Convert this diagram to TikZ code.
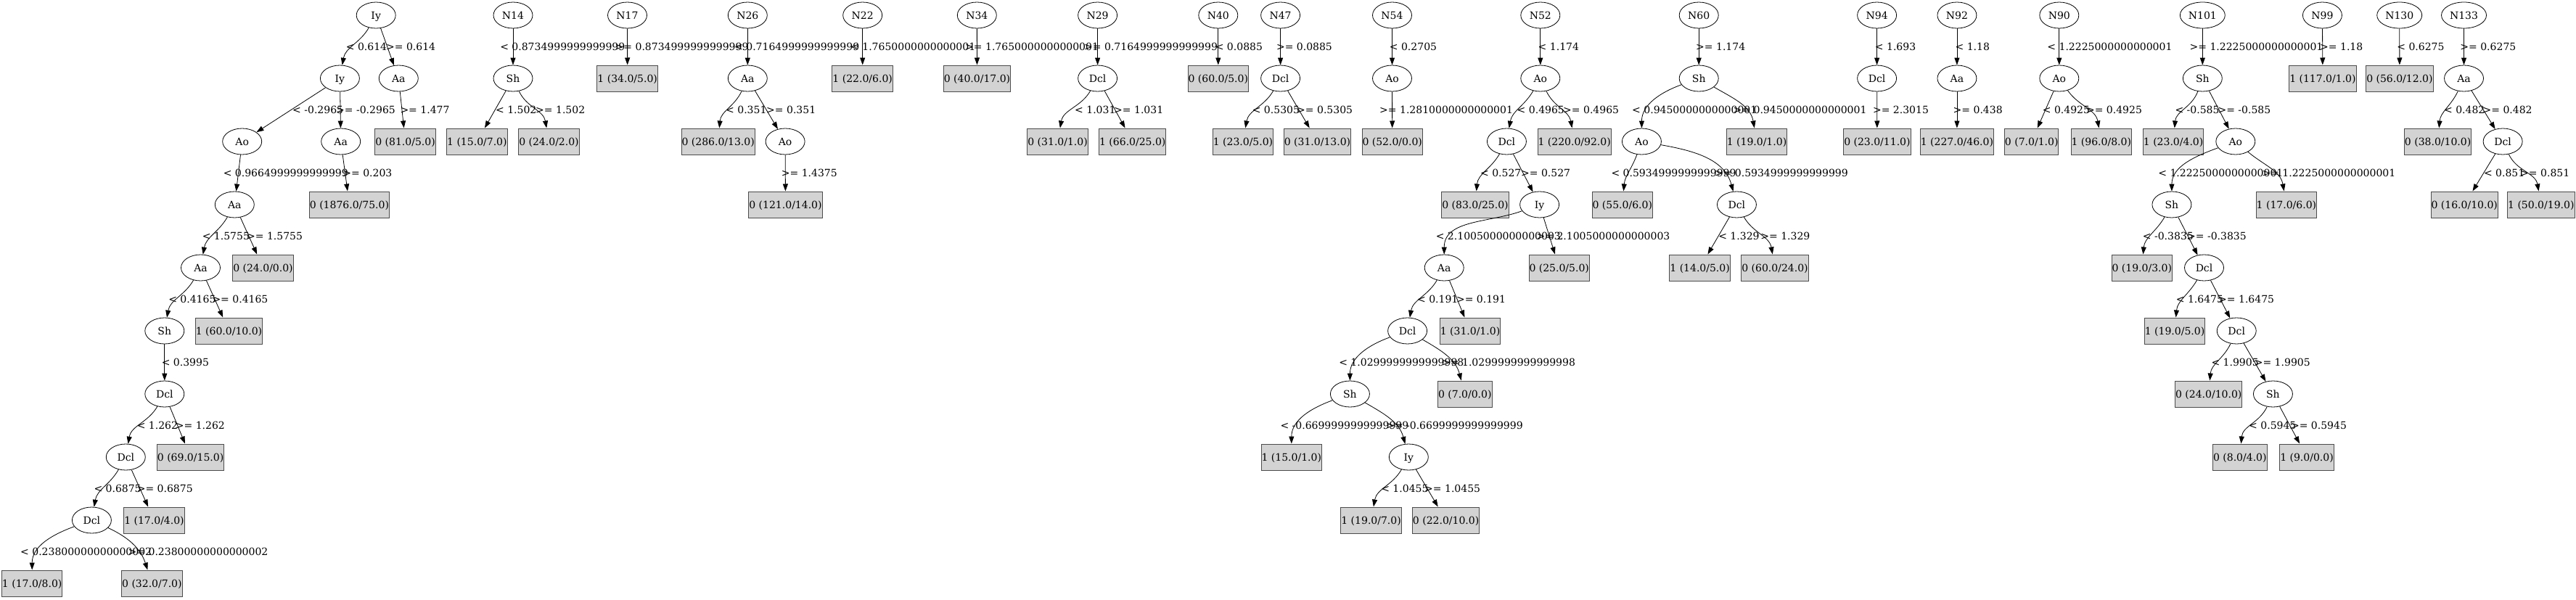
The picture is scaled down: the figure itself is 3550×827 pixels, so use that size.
\documentclass[tikz,border=0pt]{standalone}
\usepackage{fontspec}
\setmainfont{DejaVu Serif}
\usepackage{tikz}
\usepackage{xcolor}
\usetikzlibrary{shapes.geometric, arrows.meta}
\definecolor{leafgray}{HTML}{D3D3D3}
\tikzstyle{attr} = [ellipse, draw=black, line width=0.8bp,
minimum width=54bp, minimum height=36bp, inner sep=0pt,
text height=10.2bp, text depth=0pt]
\tikzstyle{wide} = [minimum width=62bp]
\tikzstyle{leaf} = [rectangle, draw=black!70, fill=leafgray, line width=1bp,
minimum height=36bp, inner xsep=0.5bp, inner ysep=0pt,
text height=10.2bp, text depth=0pt]
\tikzstyle{cond} = [anchor=west, inner sep=0pt, text height=10.2bp, text depth=0pt]
\tikzstyle{arrow} = [line width=0.8bp, -{Triangle[length=10bp, width=7bp]}]

\begin{document}
\begin{tikzpicture}[x=1bp, y=1bp, font=\fontsize{14bp}{16bp}\selectfont]
        \useasboundingbox (0,0) rectangle (3550,-827);

        % Arbol principal (raiz Iy)
        \node[attr] (a0) at (518.2,-21) {Iy};
        \node[attr] (a1) at (468.4,-108) {Iy};
        \node[attr] (a2) at (549.3,-108) {Aa};
        \node[attr] (a3) at (333.7,-195) {Ao};
        \node[attr] (a4) at (469.7,-195) {Aa};
        \node[leaf] (a5) at (558.6,-195) {0 (81.0/5.0)};
        \node[attr] (a6) at (323.3,-282) {Aa};
        \node[leaf] (a7) at (481.5,-282) {0 (1876.0/75.0)};
        \node[attr] (a8) at (276.5,-369) {Aa};
        \node[leaf] (a9) at (362.5,-369) {0 (24.0/0.0)};
        \node[attr] (a10) at (226.8,-456) {Sh};
        \node[leaf] (a11) at (315.5,-456) {1 (60.0/10.0)};
        \node[attr] (a12) at (226.8,-543) {Dcl};
        \node[attr] (a13) at (173.3,-630) {Dcl};
        \node[leaf] (a14) at (262.6,-630) {0 (69.0/15.0)};
        \node[attr] (a15) at (126.4,-717) {Dcl};
        \node[leaf] (a16) at (212.5,-717) {1 (17.0/4.0)};
        \node[leaf] (a17) at (44.2,-804) {1 (17.0/8.0)};
        \node[leaf] (a18) at (209.4,-804) {0 (32.0/7.0)};

        \draw[arrow] (a0) to[out=-120, in=80] (a1);
        \node[cond] (ca1) at (476.7,-64.5) {< 0.614};
        \draw[arrow] (a0) -- (a2);
        \node[cond] (ca2) at (531.9,-64.5) {>= 0.614};
        \draw[arrow] (a1) -- (a3);
        \node[cond] (ca3) at (403,-151.5) {< -0.2965};
        \draw[arrow] (a1) -- (a4);
        \node[cond] (ca4) at (463,-151.5) {>= -0.2965};
        \draw[arrow] (a2) -- (a5);
        \node[cond] (ca5) at (551.3,-151.5) {>= 1.477};
        \draw[arrow] (a3) -- (a6);
        \node[cond] (ca6) at (307.6,-238.5) {< 0.9664999999999999};
        \draw[arrow] (a4) -- (a7);
        \node[cond] (ca7) at (472.2,-238.5) {>= 0.203};
        \draw[arrow] (a6) to[out=-120, in=80] (a8);
        \node[cond] (ca8) at (278.6,-325.5) {< 1.5755};
        \draw[arrow] (a6) -- (a9);
        \node[cond] (ca9) at (339.9,-325.5) {>= 1.5755};
        \draw[arrow] (a8) to[out=-120, in=80] (a10);
        \node[cond] (ca10) at (232.1,-412.5) {< 0.4165};
        \draw[arrow] (a8) -- (a11);
        \node[cond] (ca11) at (292.3,-412.5) {>= 0.4165};
        \draw[arrow] (a10) -- (a12);
        \node[cond] (ca12) at (222.6,-499.5) {< 0.3995};
        \draw[arrow] (a12) to[out=-120, in=80] (a13);
        \node[cond] (ca13) at (188.6,-586.5) {< 1.262};
        \draw[arrow] (a12) -- (a14);
        \node[cond] (ca14) at (241.7,-586.5) {>= 1.262};
        \draw[arrow] (a13) to[out=-120, in=80] (a15);
        \node[cond] (ca15) at (129.3,-673.5) {< 0.6875};
        \draw[arrow] (a13) -- (a16);
        \node[cond] (ca16) at (188.6,-673.5) {>= 0.6875};
        \draw[arrow] (a15) to[out=200, in=90] (a17);
        \node[cond] (ca17) at (28,-760.5) {< 0.23800000000000002};
        \draw[arrow] (a15) to[out=-25, in=108] (a18);
        \node[cond] (ca18) at (176.5,-760.5) {>= 0.23800000000000002};

        % N14
        \node[attr] (n14) at (707,-21) {N14};
        \node[attr] (n14a) at (707,-108) {Sh};
        \node[leaf] (n14b) at (657.4,-195) {1 (15.0/7.0)};
        \node[leaf] (n14c) at (756.5,-195) {0 (24.0/2.0)};
        \draw[arrow] (n14) -- (n14a);
        \node[cond] (cn14a) at (689.1,-64.5) {< 0.8734999999999999};
        \draw[arrow] (n14a) -- (n14b);
        \node[cond] (cn14b) at (682.9,-151.5) {< 1.502};
        \draw[arrow] (n14a) to[out=-65, in=100] (n14c);
        \node[cond] (cn14c) at (738,-151.5) {>= 1.502};

        % N17
        \node[attr] (n17) at (864.5,-21) {N17};
        \node[leaf] (n17a) at (864.7,-108) {1 (34.0/5.0)};
        \draw[arrow] (n17) -- (n17a);
        \node[cond] (cn17a) at (847.5,-64.5) {>= 0.8734999999999999};

        % N26
        \node[attr] (n26) at (1030.3,-21) {N26};
        \node[attr] (n26a) at (1030.3,-108) {Aa};
        \node[leaf] (n26b) at (989.7,-195) {0 (286.0/13.0)};
        \node[attr] (n26c) at (1082.1,-195) {Ao};
        \node[leaf] (n26d) at (1082.5,-282) {0 (121.0/14.0)};
        \draw[arrow] (n26) -- (n26a);
        \node[cond] (cn26a) at (1012,-64.5) {< 0.7164999999999999};
        \draw[arrow] (n26a) to[out=-115, in=85] (n26b);
        \node[cond] (cn26b) at (1000,-151.5) {< 0.351};
        \draw[arrow] (n26a) -- (n26c);
        \node[cond] (cn26c) at (1056,-151.5) {>= 0.351};
        \draw[arrow] (n26c) -- (n26d);
        \node[cond] (cn26d) at (1076.7,-238.5) {>= 1.4375};

        % N22
        \node[attr] (n22) at (1188.7,-21) {N22};
        \node[leaf] (n22a) at (1188.7,-108) {1 (22.0/6.0)};
        \draw[arrow] (n22) -- (n22a);
        \node[cond] (cn22a) at (1172,-64.5) {< 1.7650000000000001};

        % N34
        \node[attr] (n34) at (1346.3,-21) {N34};
        \node[leaf] (n34a) at (1346.5,-108) {0 (40.0/17.0)};
        \draw[arrow] (n34) -- (n34a);
        \node[cond] (cn34a) at (1330,-64.5) {>= 1.7650000000000001};

        % N29
        \node[attr] (n29) at (1512.6,-21) {N29};
        \node[attr] (n29a) at (1512.6,-108) {Dcl};
        \node[leaf] (n29b) at (1457.6,-195) {0 (31.0/1.0)};
        \node[leaf] (n29c) at (1560.8,-195) {1 (66.0/25.0)};
        \draw[arrow] (n29) -- (n29a);
        \node[cond] (cn29a) at (1494,-64.5) {>= 0.7164999999999999};
        \draw[arrow] (n29a) to[out=-120, in=80] (n29b);
        \node[cond] (cn29b) at (1481,-151.5) {< 1.031};
        \draw[arrow] (n29a) -- (n29c);
        \node[cond] (cn29c) at (1535,-151.5) {>= 1.031};

        % N40
        \node[attr] (n40) at (1678.8,-21) {N40};
        \node[leaf] (n40a) at (1678.8,-108) {0 (60.0/5.0)};
        \draw[arrow] (n40) -- (n40a);
        \node[cond] (cn40a) at (1674.6,-64.5) {< 0.0885};

        % N47
        \node[attr] (n47) at (1764.6,-21) {N47};
        \node[attr] (n47a) at (1764.6,-108) {Dcl};
        \node[leaf] (n47b) at (1713,-195) {1 (23.0/5.0)};
        \node[leaf] (n47c) at (1815.5,-195) {0 (31.0/13.0)};
        \draw[arrow] (n47) -- (n47a);
        \node[cond] (cn47a) at (1758.8,-64.5) {>= 0.0885};
        \draw[arrow] (n47a) to[out=-120, in=80] (n47b);
        \node[cond] (cn47b) at (1725.6,-151.5) {< 0.5305};
        \draw[arrow] (n47a) -- (n47c);
        \node[cond] (cn47c) at (1787,-151.5) {>= 0.5305};

        % N54
        \node[attr] (n54) at (1918.5,-21) {N54};
        \node[attr] (n54a) at (1918.5,-108) {Ao};
        \node[leaf] (n54b) at (1918.7,-195) {0 (52.0/0.0)};
        \draw[arrow] (n54) -- (n54a);
        \node[cond] (cn54a) at (1914.7,-64.5) {< 0.2705};
        \draw[arrow] (n54a) -- (n54b);
        \node[cond] (cn54b) at (1901,-151.5) {>= 1.2810000000000001};

        % N52
        \node[attr] (n52) at (2122.8,-21) {N52};
        \node[attr] (n52a) at (2122.8,-108) {Ao};
        \node[attr] (n52b) at (2076.4,-195) {Dcl};
        \node[leaf] (n52c) at (2169.7,-195) {1 (220.0/92.0)};
        \node[leaf] (n52d) at (2033,-282) {0 (83.0/25.0)};
        \node[attr] (n52e) at (2121.6,-282) {Iy};
        \node[attr] (n52f) at (1990.2,-369) {Aa};
        \node[leaf] (n52g) at (2148.7,-369) {0 (25.0/5.0)};
        \node[attr] (n52h) at (1939.6,-456) {Dcl};
        \node[leaf] (n52i) at (2026,-456) {1 (31.0/1.0)};
        \node[attr] (n52j) at (1860.4,-543) {Sh};
        \node[leaf] (n52k) at (2018.8,-543) {0 (7.0/0.0)};
        \node[leaf] (n52l) at (1779.8,-630) {1 (15.0/1.0)};
        \node[attr] (n52m) at (1941.3,-630) {Iy};
        \node[leaf] (n52n) at (1889.6,-717) {1 (19.0/7.0)};
        \node[leaf] (n52o) at (1992.6,-717) {0 (22.0/10.0)};
        \draw[arrow] (n52) -- (n52a);
        \node[cond] (cn52a) at (2119.5,-64.5) {< 1.174};
        \draw[arrow] (n52a) to[out=-120, in=80] (n52b);
        \node[cond] (cn52b) at (2090.5,-151.5) {< 0.4965};
        \draw[arrow] (n52a) to[out=-65, in=100] (n52c);
        \node[cond] (cn52c) at (2154,-151.5) {>= 0.4965};
        \draw[arrow] (n52b) to[out=-120, in=85] (n52d);
        \node[cond] (cn52d) at (2039.9,-238.5) {< 0.527};
        \draw[arrow] (n52b) -- (n52e);
        \node[cond] (cn52e) at (2095.9,-238.5) {>= 0.527};
        \draw[arrow] (n52e) to[out=200, in=90] (n52f);
        \node[cond] (cn52f) at (1978.6,-325.5) {< 2.1005000000000003};
        \draw[arrow] (n52e) -- (n52g);
        \node[cond] (cn52g) at (2117.4,-325.5) {>= 2.1005000000000003};
        \draw[arrow] (n52f) to[out=-120, in=80] (n52h);
        \node[cond] (cn52h) at (1952.9,-412.5) {< 0.191};
        \draw[arrow] (n52f) -- (n52i);
        \node[cond] (cn52i) at (2006.8,-412.5) {>= 0.191};
        \draw[arrow] (n52h) to[out=200, in=90] (n52j);
        \node[cond] (cn52j) at (1845.1,-499.5) {< 1.0299999999999998};
        \draw[arrow] (n52h) to[out=-30, in=105] (n52k);
        \node[cond] (cn52k) at (1987,-499.5) {>= 1.0299999999999998};
        \draw[arrow] (n52j) to[out=200, in=90] (n52l);
        \node[cond] (cn52l) at (1764.3,-586.5) {< -0.6699999999999999};
        \draw[arrow] (n52j) to[out=-30, in=105] (n52m);
        \node[cond] (cn52m) at (1910,-586.5) {>= -0.6699999999999999};
        \draw[arrow] (n52m) to[out=-120, in=80] (n52n);
        \node[cond] (cn52n) at (1903.1,-673.5) {< 1.0455};
        \draw[arrow] (n52m) -- (n52o);
        \node[cond] (cn52o) at (1963,-673.5) {>= 1.0455};

        % N60
        \node[attr] (n60) at (2341.2,-21) {N60};
        \node[attr] (n60a) at (2341.2,-108) {Sh};
        \node[attr] (n60b) at (2262.4,-195) {Ao};
        \node[leaf] (n60c) at (2421,-195) {1 (19.0/1.0)};
        \node[leaf] (n60d) at (2235.8,-282) {0 (55.0/6.0)};
        \node[attr] (n60e) at (2393.4,-282) {Dcl};
        \node[leaf] (n60f) at (2342.6,-369) {1 (14.0/5.0)};
        \node[leaf] (n60g) at (2446,-369) {0 (60.0/24.0)};
        \draw[arrow] (n60) -- (n60a);
        \node[cond] (cn60a) at (2337,-64.5) {>= 1.174};
        \draw[arrow] (n60a) to[out=200, in=90] (n60b);
        \node[cond] (cn60b) at (2249,-151.5) {< 0.9450000000000001};
        \draw[arrow] (n60a) to[out=-30, in=100] (n60c);
        \node[cond] (cn60c) at (2388.5,-151.5) {>= 0.9450000000000001};
        \draw[arrow] (n60b) to[out=-110, in=85] (n60d);
        \node[cond] (cn60d) at (2220.3,-238.5) {< 0.5934999999999999};
        \draw[arrow] (n60b) to[out=-10, in=105] (n60e);
        \node[cond] (cn60e) at (2362.8,-238.5) {>= 0.5934999999999999};
        \draw[arrow] (n60e) -- (n60f);
        \node[cond] (cn60f) at (2368.1,-325.5) {< 1.329};
        \draw[arrow] (n60e) to[out=-60, in=100] (n60g);
        \node[cond] (cn60g) at (2426.2,-325.5) {>= 1.329};

        % N94
        \node[attr] (n94) at (2586.6,-21) {N94};
        \node[attr] (n94a) at (2586.6,-108) {Dcl};
        \node[leaf] (n94b) at (2586.9,-195) {0 (23.0/11.0)};
        \draw[arrow] (n94) -- (n94a);
        \node[cond] (cn94a) at (2583.7,-64.5) {< 1.693};
        \draw[arrow] (n94a) -- (n94b);
        \node[cond] (cn94b) at (2580.8,-151.5) {>= 2.3015};

        % N92
        \node[attr] (n92) at (2696.9,-21) {N92};
        \node[attr] (n92a) at (2696.9,-108) {Aa};
        \node[leaf] (n92b) at (2696.9,-195) {1 (227.0/46.0)};
        \draw[arrow] (n92) -- (n92a);
        \node[cond] (cn92a) at (2694.4,-64.5) {< 1.18};
        \draw[arrow] (n92a) -- (n92b);
        \node[cond] (cn92b) at (2691.5,-151.5) {>= 0.438};

        % N90
        \node[attr] (n90) at (2837.8,-21) {N90};
        \node[attr] (n90a) at (2837.8,-108) {Ao};
        \node[leaf] (n90b) at (2799.7,-195) {0 (7.0/1.0)};
        \node[leaf] (n90c) at (2895.8,-195) {1 (96.0/8.0)};
        \draw[arrow] (n90) -- (n90a);
        \node[cond] (cn90a) at (2821.2,-64.5) {< 1.2225000000000001};
        \draw[arrow] (n90a) -- (n90b);
        \node[cond] (cn90b) at (2814.6,-151.5) {< 0.4925};
        \draw[arrow] (n90a) to[out=-55, in=100] (n90c);
        \node[cond] (cn90c) at (2874.8,-151.5) {>= 0.4925};

        % N101
        \node[attr, wide] (n101) at (3035.3,-21) {N101};
        \node[attr] (n101a) at (3035.3,-108) {Sh};
        \node[leaf] (n101b) at (2995.1,-195) {1 (23.0/4.0)};
        \node[attr] (n101c) at (3080.8,-195) {Ao};
        \node[attr] (n101d) at (2992.9,-282) {Sh};
        \node[leaf] (n101e) at (3150.9,-282) {1 (17.0/6.0)};
        \node[leaf] (n101f) at (2951.8,-369) {0 (19.0/3.0)};
        \node[attr] (n101g) at (3037.5,-369) {Dcl};
        \node[leaf] (n101h) at (2997,-456) {1 (19.0/5.0)};
        \node[attr] (n101i) at (3082.2,-456) {Dcl};
        \node[leaf] (n101j) at (3043.7,-543) {0 (24.0/10.0)};
        \node[attr] (n101k) at (3132.4,-543) {Sh};
        \node[leaf] (n101l) at (3086.8,-630) {0 (8.0/4.0)};
        \node[leaf] (n101m) at (3179,-630) {1 (9.0/0.0)};
        \draw[arrow] (n101) -- (n101a);
        \node[cond] (cn101a) at (3017.4,-64.5) {>= 1.2225000000000001};
        \draw[arrow] (n101a) to[out=-110, in=85] (n101b);
        \node[cond] (cn101b) at (2997.3,-151.5) {< -0.585};
        \draw[arrow] (n101a) -- (n101c);
        \node[cond] (cn101c) at (3056.3,-151.5) {>= -0.585};
        \draw[arrow] (n101c) to[out=200, in=90] (n101d);
        \node[cond] (cn101d) at (2974.1,-238.5) {< 1.2225000000000001};
        \draw[arrow] (n101c) to[out=-40, in=100] (n101e);
        \node[cond] (cn101e) at (3117.3,-238.5) {>= 1.2225000000000001};
        \draw[arrow] (n101d) to[out=-120, in=85] (n101f);
        \node[cond] (cn101f) at (2952.7,-325.5) {< -0.3835};
        \draw[arrow] (n101d) -- (n101g);
        \node[cond] (cn101g) at (3013.9,-325.5) {>= -0.3835};
        \draw[arrow] (n101g) to[out=-120, in=85] (n101h);
        \node[cond] (cn101h) at (2998.6,-412.5) {< 1.6475};
        \draw[arrow] (n101g) -- (n101i);
        \node[cond] (cn101i) at (3057,-412.5) {>= 1.6475};
        \draw[arrow] (n101i) to[out=-115, in=85] (n101j);
        \node[cond] (cn101j) at (3047.3,-499.5) {< 1.9905};
        \draw[arrow] (n101i) -- (n101k);
        \node[cond] (cn101k) at (3106.6,-499.5) {>= 1.9905};
        \draw[arrow] (n101k) to[out=-115, in=85] (n101l);
        \node[cond] (cn101l) at (3099,-586.5) {< 0.5945};
        \draw[arrow] (n101k) -- (n101m);
        \node[cond] (cn101m) at (3156.8,-586.5) {>= 0.5945};

        % N99
        \node[attr] (n99) at (3200.4,-21) {N99};
        \node[leaf] (n99a) at (3200.9,-108) {1 (117.0/1.0)};
        \draw[arrow] (n99) -- (n99a);
        \node[cond] (cn99a) at (3197,-64.5) {>= 1.18};

        % N130
        \node[attr, wide] (n130) at (3306.7,-21) {N130};
        \node[leaf] (n130a) at (3306.9,-108) {0 (56.0/12.0)};
        \draw[arrow] (n130) -- (n130a);
        \node[cond] (cn130a) at (3303.1,-64.5) {< 0.6275};

        % N133
        \node[attr, wide] (n133) at (3395.5,-21) {N133};
        \node[attr] (n133a) at (3395.5,-108) {Aa};
        \node[leaf] (n133b) at (3359.6,-195) {0 (38.0/10.0)};
        \node[attr] (n133c) at (3449.1,-195) {Dcl};
        \node[leaf] (n133d) at (3396.2,-282) {0 (16.0/10.0)};
        \node[leaf] (n133e) at (3501.8,-282) {1 (50.0/19.0)};
        \draw[arrow] (n133) -- (n133a);
        \node[cond] (cn133a) at (3390.2,-64.5) {>= 0.6275};
        \draw[arrow] (n133a) to[out=-115, in=85] (n133b);
        \node[cond] (cn133b) at (3367.9,-151.5) {< 0.482};
        \draw[arrow] (n133a) -- (n133c);
        \node[cond] (cn133c) at (3421.4,-151.5) {>= 0.482};
        \draw[arrow] (n133c) -- (n133d);
        \node[cond] (cn133d) at (3422.8,-238.5) {< 0.851};
        \draw[arrow] (n133c) to[out=-65, in=100] (n133e);
        \node[cond] (cn133e) at (3473,-238.5) {>= 0.851};

    \end{tikzpicture}
\end{document}
